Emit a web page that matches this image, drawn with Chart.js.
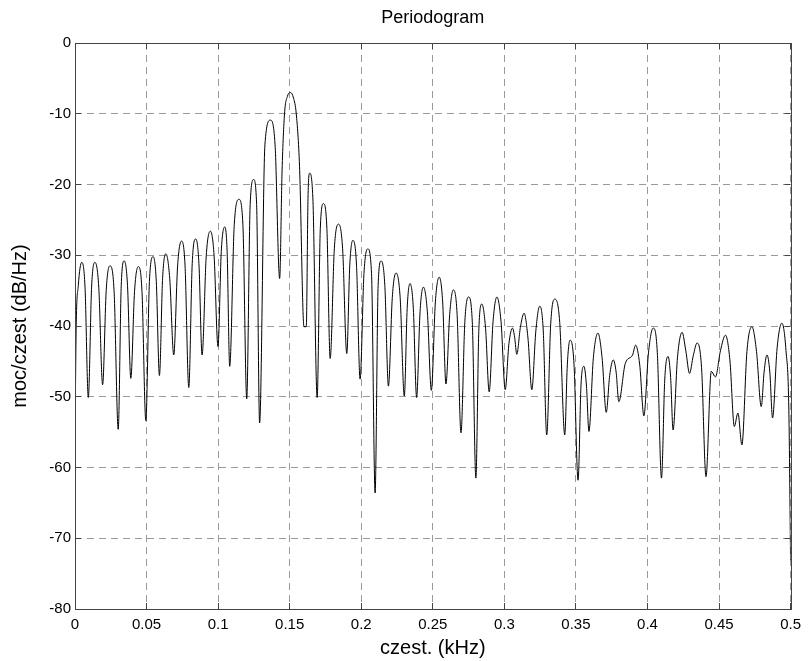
<!DOCTYPE html>
<html>
<head>
<meta charset="utf-8">
<title>Periodogram</title>
<script src="https://cdn.jsdelivr.net/npm/chart.js@4.4.1/dist/chart.umd.min.js"></script>
<style>
  html, body { margin: 0; padding: 0; background: #fff; }
</style>
</head>
<body>
<canvas id="myChart" width="808" height="661"></canvas>
<script>
// Values, one line per lobe (shoulders, peak, null)
const freqKHz = [
  0.0000, 0.0008,
  0.0023, 0.0047, 0.0070, 0.0093,
  0.0116, 0.0139, 0.0166, 0.0193,
  0.0218, 0.0244, 0.0273, 0.0302,
  0.0323, 0.0344, 0.0367, 0.0390,
  0.0416, 0.0442, 0.0468, 0.0495,
  0.0520, 0.0546, 0.0568, 0.0590,
  0.0612, 0.0635, 0.0662, 0.0690,
  0.0717, 0.0744, 0.0769, 0.0795,
  0.0819, 0.0844, 0.0866, 0.0888,
  0.0917, 0.0946, 0.0972, 0.0999,
  0.1022, 0.1046, 0.1063, 0.1081,
  0.1113, 0.1146, 0.1173, 0.1200,
  0.1224, 0.1248, 0.1269, 0.1290,
  0.1327, 0.1365, 0.1398, 0.1430,
  0.1447, 0.1464, 0.1485, 0.1506, 0.1527, 0.1546, 0.1569, 0.1600, 0.1616,
  0.1628, 0.1639, 0.1662, 0.1692,
  0.1714, 0.1736, 0.1760, 0.1783,
  0.1812, 0.1841, 0.1870, 0.1899,
  0.1920, 0.1941, 0.1967, 0.1992,
  0.2019, 0.2046, 0.2072, 0.2097,
  0.2118, 0.2139, 0.2165, 0.2190,
  0.2217, 0.2243, 0.2272, 0.2301,
  0.2321, 0.2341, 0.2364, 0.2387,
  0.2411, 0.2434, 0.2462, 0.2490,
  0.2518, 0.2545, 0.2569, 0.2592,
  0.2618, 0.2643, 0.2670, 0.2697,
  0.2724, 0.2750, 0.2776, 0.2801,
  0.2822, 0.2843, 0.2869, 0.2894,
  0.2921, 0.2948, 0.2977, 0.3006,
  0.3032, 0.3057, 0.3072, 0.3087,
  0.3112, 0.3138, 0.3165, 0.3192,
  0.3220, 0.3247, 0.3272, 0.3296,
  0.3324, 0.3352, 0.3387, 0.3422,
  0.3440, 0.3459, 0.3487, 0.3515,
  0.3536, 0.3556, 0.3574, 0.3591,
  0.3622, 0.3654, 0.3683, 0.3712,
  0.3736, 0.3761, 0.3781, 0.3800,
  0.3845, 0.3896, 0.3917, 0.3946, 0.3975,
  0.4007, 0.4040, 0.4069, 0.4098,
  0.4121, 0.4144, 0.4162, 0.4179,
  0.4210, 0.4242, 0.4268, 0.4294,
  0.4320, 0.4347, 0.4378, 0.4409,
  0.4446, 0.4475, 0.4510, 0.4545, 0.4576, 0.4607, 0.4632, 0.4660,
  0.4695, 0.4730, 0.4762, 0.4795,
  0.4815, 0.4835, 0.4855, 0.4874,
  0.4906, 0.4939, 0.4968, 0.4988, 0.5000
];
const powerDb = [
  -56.5, -40.5,
  -34.3, -31.0, -34.5, -50.1,
  -34.5, -31.0, -34.5, -48.3,
  -35.0, -31.5, -35.0, -54.6,
  -34.3, -30.8, -34.3, -47.4,
  -35.1, -31.6, -35.1, -53.4,
  -33.7, -30.2, -33.7, -47.0,
  -33.3, -29.8, -33.3, -44.1,
  -31.5, -28.0, -31.5, -48.7,
  -31.2, -27.7, -31.2, -44.1,
  -30.1, -26.6, -30.1, -42.9,
  -29.5, -26.0, -29.5, -45.7,
  -25.6, -22.1, -25.6, -50.3,
  -22.8, -19.3, -22.8, -53.7,
  -14.4, -10.9, -14.4, -33.3,
  -18.0, -10.0, -7.5, -7.0, -7.8, -10.0, -17.5, -40.1, -40.1,
  -22.0, -18.4, -21.9, -50.1,
  -26.2, -22.7, -26.2, -44.6,
  -29.1, -25.6, -29.1, -43.9,
  -31.4, -27.9, -31.4, -47.5,
  -32.6, -29.1, -32.6, -63.6,
  -34.3, -30.8, -34.3, -48.5,
  -36.0, -32.5, -36.0, -49.9,
  -37.5, -34.0, -37.5, -50.1,
  -38.0, -34.5, -38.0, -49.1,
  -36.6, -33.1, -36.6, -48.2,
  -38.4, -34.9, -38.4, -55.1,
  -39.4, -35.9, -39.4, -61.5,
  -40.4, -36.9, -40.4, -49.3,
  -39.4, -35.9, -39.4, -49.0,
  -42.5, -40.3, -41.6, -44.0,
  -40.2, -38.2, -41.7, -49.0,
  -40.7, -37.2, -40.7, -55.4,
  -39.7, -36.2, -39.5, -55.4,
  -45.5, -42.0, -45.5, -61.8,
  -48.2, -45.7, -48.5, -54.9,
  -44.5, -41.0, -44.5, -52.2,
  -47.0, -44.8, -46.5, -50.7,
  -45.3, -44.1, -42.7, -45.5, -52.7,
  -43.8, -40.3, -43.8, -61.5,
  -47.5, -44.3, -47.3, -54.7,
  -44.4, -40.9, -43.5, -46.7,
  -44.2, -42.4, -45.9, -61.3,
  -46.4, -47.2, -43.5, -41.3, -44.8, -54.2, -52.3, -56.8,
  -43.6, -40.1, -43.6, -51.4,
  -46.5, -44.1, -46.5, -53.0,
  -43.1, -39.6, -43.5, -52.0, -73.1
];
const xTicks = [0, 0.05, 0.1, 0.15, 0.2, 0.25, 0.3, 0.35, 0.4, 0.45, 0.5];
const yTicks = [0, -10, -20, -30, -40, -50, -60, -70, -80];

Chart.defaults.font.family = '"Liberation Sans", Arial, sans-serif';
Chart.defaults.color = '#000';

// box round the plot plus inward tick marks, like the MATLAB axes
const frameTicks = {
  id: 'frameTicks',
  afterDraw(chart) {
    const {ctx, chartArea, scales} = chart;
    const {left, right, top, bottom} = chartArea;
    const al = p => Math.round(p - 0.5) + 0.5;
    ctx.save();
    ctx.strokeStyle = '#444';
    ctx.lineWidth = 1;
    ctx.beginPath();
    xTicks.forEach(v => {
      const px = al(scales.x.getPixelForValue(v));
      ctx.moveTo(px, bottom); ctx.lineTo(px, bottom - 6);
      ctx.moveTo(px, top); ctx.lineTo(px, top + 6);
    });
    yTicks.forEach(v => {
      const py = al(scales.y.getPixelForValue(v));
      ctx.moveTo(left, py); ctx.lineTo(left + 6, py);
      ctx.moveTo(right, py); ctx.lineTo(right - 6, py);
    });
    ctx.stroke();
    ctx.strokeRect(al(left), al(top), Math.round(right - left), Math.round(bottom - top));
    ctx.restore();
  }
};

const gridOpts = {color: '#9a9a9a', lineWidth: 1, drawTicks: false};
const borderOpts = {display: false, dash: [7, 5]};

const config = {
  type: 'line',
  data: {
    datasets: [{
      data: freqKHz.map((f, i) => ({x: f, y: powerDb[i]})),
      borderColor: '#000',
      borderWidth: 1,
      pointRadius: 0,
      cubicInterpolationMode: 'monotone',
      fill: false
    }]
  },
  options: {
    responsive: false,
    animation: false,
    devicePixelRatio: 1,
    layout: {padding: {left: 0, right: 16, top: 0, bottom: 0}},
    scales: {
      x: {
        type: 'linear',
        min: 0,
        max: 0.5,
        afterBuildTicks: s => { s.ticks = xTicks.map(v => ({value: v})); },
        afterFit: s => { s.height = 52; },
        ticks: {
          autoSkip: false,
          maxRotation: 0,
          padding: 7,
          font: {size: 15},
          callback: v => String(+v.toFixed(2))
        },
        grid: gridOpts,
        border: borderOpts,
        title: {display: true, text: 'czest. (kHz)', font: {size: 20}, padding: {top: 0, bottom: 1}}
      },
      y: {
        min: -80,
        max: 0,
        afterBuildTicks: s => { s.ticks = yTicks.map(v => ({value: v})); },
        afterFit: s => { s.width = 75; },
        ticks: {padding: 4, font: {size: 15}},
        grid: gridOpts,
        border: borderOpts,
        title: {display: true, text: 'moc/czest (dB/Hz)', font: {size: 20}, padding: {top: 8, bottom: 0}}
      }
    },
    plugins: {
      legend: {display: false},
      tooltip: {enabled: false},
      title: {
        display: true,
        fullSize: false,
        text: 'Periodogram',
        font: {size: 18, weight: 'normal'},
        color: '#000',
        padding: {top: 7.2, bottom: 14.2}
      }
    }
  },
  plugins: [frameTicks]
};

var ctx = document.getElementById('myChart').getContext('2d');
var myChart = new Chart(ctx, config);
</script>
</body>
</html>
